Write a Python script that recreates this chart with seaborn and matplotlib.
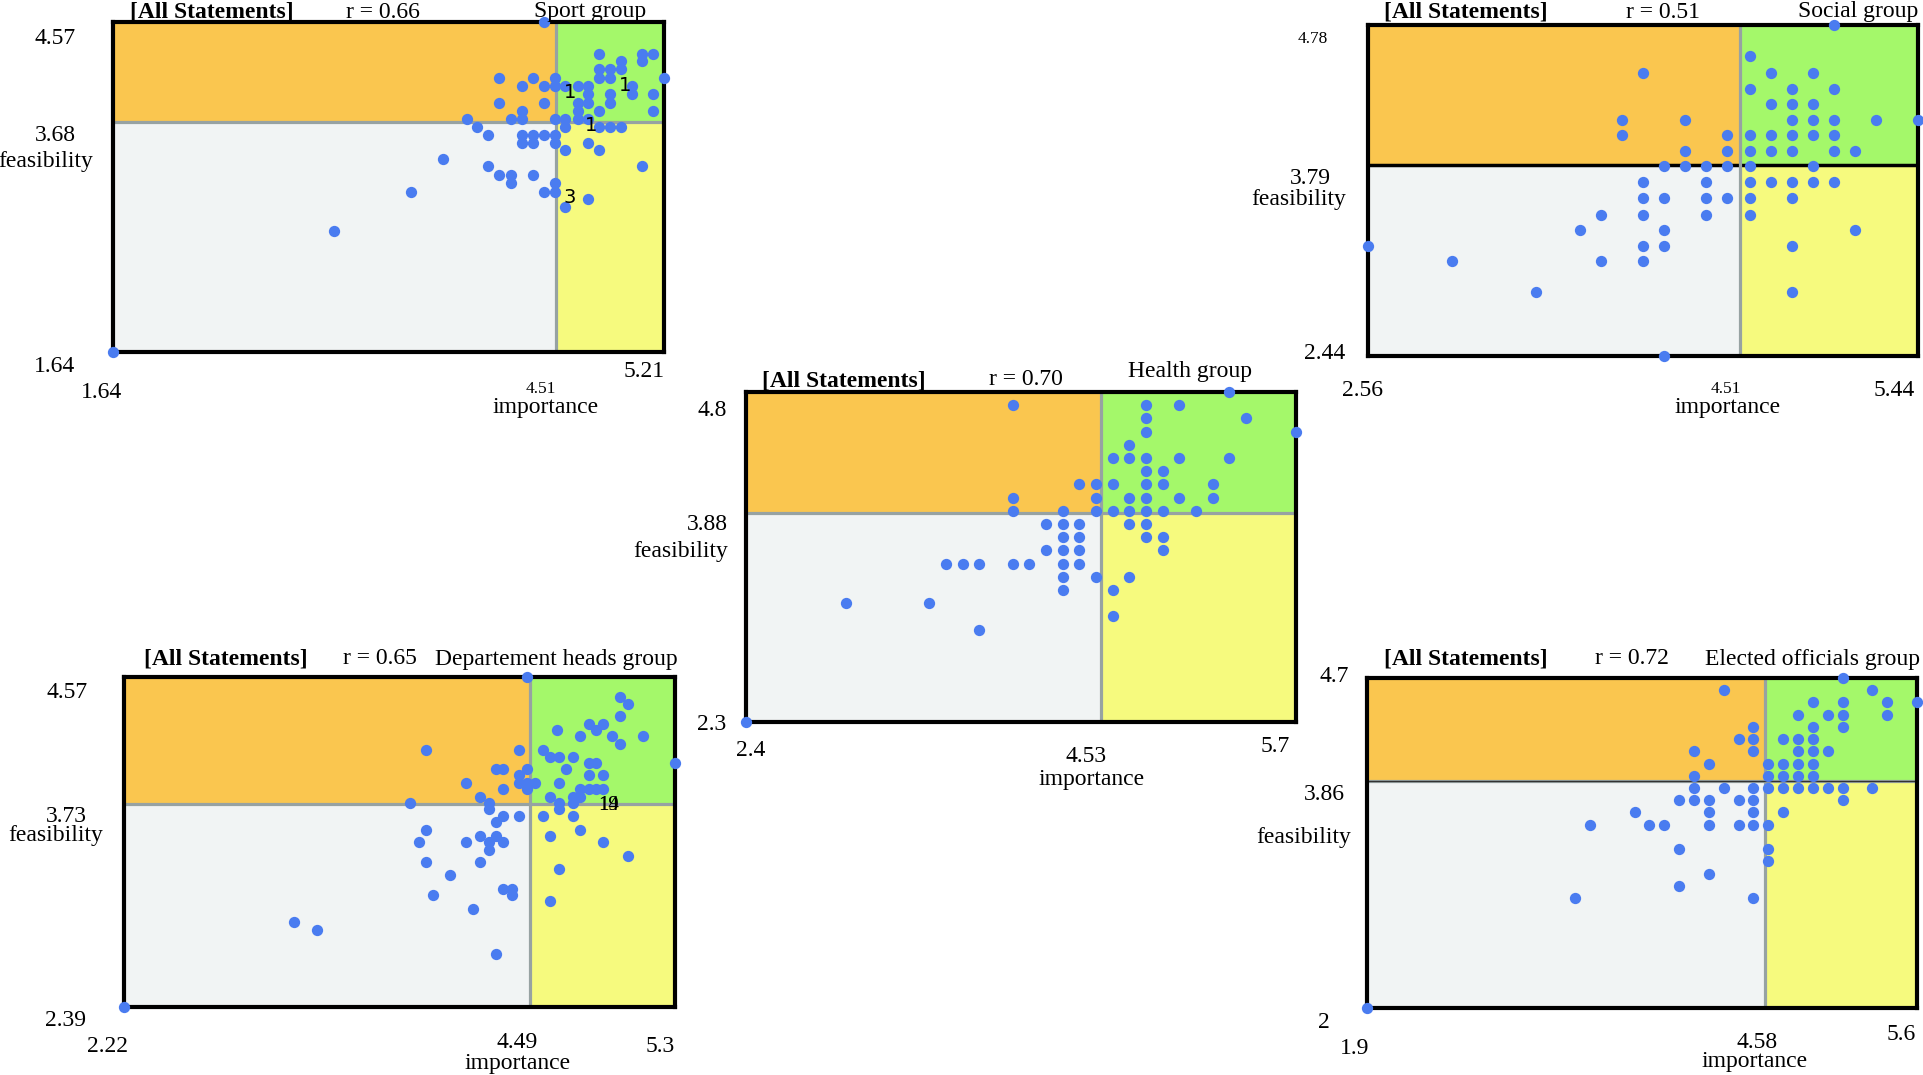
import numpy as np
import pandas as pd
import matplotlib
matplotlib.use("Agg")
import matplotlib.pyplot as plt
from matplotlib.patches import Rectangle
import seaborn as sns

sns.set_theme(style="white")
plt.rcParams['font.family'] = ['Liberation Serif', 'DejaVu Serif']

# ---------------- data ----------------
# Sport group
sport_imp = [4.43,
             4.79, 5.07, 5.14,
             4.93, 5.07,
             4.79, 4.86, 4.93,
             4.14, 4.36, 4.50, 4.79, 4.86, 5.21,
             4.29, 4.43, 4.50, 4.57, 4.65, 4.72, 5.00,
             4.72, 4.86, 5.00, 5.14,
             4.14, 4.43, 4.65, 4.72, 4.86,
             4.29, 4.65, 4.79, 5.14,
             3.93, 4.22, 4.29, 4.50, 4.57, 4.65, 4.72,
             4.00, 4.57, 4.79, 4.86, 4.93,
             4.07, 4.29, 4.36, 4.43, 4.50,
             4.29, 4.36, 4.50, 4.72,
             4.57, 4.79,
             3.78,
             4.07, 5.07,
             4.14, 4.22, 4.36,
             4.22, 4.50,
             3.57, 4.43, 4.50,
             4.72,
             4.57,
             3.07,
             1.64]
sport_feas = [4.57,
              4.29, 4.29, 4.29,
              4.22, 4.22,
              4.15, 4.15, 4.15,
              4.07, 4.07, 4.07, 4.07, 4.07, 4.07,
              4.00, 4.00, 4.00, 4.00, 4.00, 4.00, 4.00,
              3.93, 3.93, 3.93, 3.93,
              3.85, 3.85, 3.85, 3.85, 3.85,
              3.78, 3.78, 3.78, 3.78,
              3.71, 3.71, 3.71, 3.71, 3.71, 3.71, 3.71,
              3.64, 3.64, 3.64, 3.64, 3.64,
              3.57, 3.57, 3.57, 3.57, 3.57,
              3.50, 3.50, 3.50, 3.50,
              3.43, 3.43,
              3.35,
              3.29, 3.29,
              3.21, 3.21, 3.21,
              3.14, 3.14,
              3.06, 3.06, 3.06,
              3.00,
              2.93,
              2.71,
              1.64]
sport_imp_ticks = [1.64, 4.51, 5.21]
sport_feas_ticks = [1.64, 3.68, 4.57]
sport_cluster_labels = ["1", "1", "1", "3"]
sport_cluster_imp = [4.60, 4.96, 4.74, 4.60]
sport_cluster_feas = [3.94, 4.01, 3.65, 3.01]

# Social group
social_imp = [5.00,
              4.56,
              4.00, 4.67, 4.89,
              4.56, 4.78, 5.00,
              4.67, 4.78, 4.89,
              3.89, 4.22, 4.78, 4.89, 5.00, 5.22, 5.44,
              3.89, 4.44, 4.56, 4.67, 4.78, 4.89, 5.00,
              4.22, 4.44, 4.56, 4.67, 4.78, 5.00, 5.11,
              4.11, 4.22, 4.33, 4.44, 4.56, 4.89,
              4.00, 4.33, 4.56, 4.67, 4.78, 4.89, 5.00,
              4.00, 4.11, 4.33, 4.44, 4.56, 4.78,
              3.78, 4.00, 4.33, 4.56,
              3.67, 4.11, 5.11,
              2.56, 4.00, 4.11, 4.78,
              3.00, 3.78, 4.00,
              3.44, 4.78,
              4.11]
social_feas = [4.78,
               4.56,
               4.44, 4.44, 4.44,
               4.33, 4.33, 4.33,
               4.22, 4.22, 4.22,
               4.11, 4.11, 4.11, 4.11, 4.11, 4.11, 4.11,
               4.00, 4.00, 4.00, 4.00, 4.00, 4.00, 4.00,
               3.89, 3.89, 3.89, 3.89, 3.89, 3.89, 3.89,
               3.78, 3.78, 3.78, 3.78, 3.78, 3.78,
               3.67, 3.67, 3.67, 3.67, 3.67, 3.67, 3.67,
               3.56, 3.56, 3.56, 3.56, 3.56, 3.56,
               3.44, 3.44, 3.44, 3.44,
               3.33, 3.33, 3.33,
               3.22, 3.22, 3.22, 3.22,
               3.11, 3.11, 3.11,
               2.89, 2.89,
               2.44]
social_imp_ticks = [2.56, 4.51, 5.44]
social_feas_ticks = [2.44, 3.79, 4.78]

# Health group
health_imp = [5.3,
              4.0, 4.8, 5.0,
              4.8, 5.4,
              4.8, 5.7,
              4.7,
              4.6, 4.7, 4.8, 5.0, 5.3,
              4.8, 4.9,
              4.4, 4.5, 4.6, 4.8, 4.9, 5.2,
              4.0, 4.5, 4.7, 4.8, 5.0, 5.2,
              4.0, 4.3, 4.5, 4.6, 4.7, 4.8, 4.9, 5.1,
              4.2, 4.3, 4.4, 4.7, 4.8,
              4.3, 4.4, 4.8, 4.9,
              4.2, 4.3, 4.4, 4.9,
              3.6, 3.7, 3.8, 4.0, 4.1, 4.3, 4.4,
              4.3, 4.5, 4.7,
              4.3, 4.6,
              3.0, 3.5,
              4.6,
              3.8,
              2.4]
health_feas = [4.8,
               4.7, 4.7, 4.7,
               4.6, 4.6,
               4.5, 4.5,
               4.4,
               4.3, 4.3, 4.3, 4.3, 4.3,
               4.2, 4.2,
               4.1, 4.1, 4.1, 4.1, 4.1, 4.1,
               4.0, 4.0, 4.0, 4.0, 4.0, 4.0,
               3.9, 3.9, 3.9, 3.9, 3.9, 3.9, 3.9, 3.9,
               3.8, 3.8, 3.8, 3.8, 3.8,
               3.7, 3.7, 3.7, 3.7,
               3.6, 3.6, 3.6, 3.6,
               3.5, 3.5, 3.5, 3.5, 3.5, 3.5, 3.5,
               3.4, 3.4, 3.4,
               3.3, 3.3,
               3.2, 3.2,
               3.1,
               3.0,
               2.3]
health_imp_ticks = [2.4, 4.53, 5.7]
health_feas_ticks = [2.3, 3.88, 4.8]

# Departement heads group
dept_imp = [4.47, 4.99, 5.04, 4.99, 4.82, 4.90, 4.86, 4.64, 4.77, 4.95, 5.12, 4.99,
            3.91, 4.43, 4.56, 4.60, 4.65, 4.73, 4.30, 4.34, 4.47, 4.69, 4.82, 4.86,
            5.30, 4.43, 4.13, 4.43, 4.47, 4.52, 4.65, 4.82, 4.90, 4.34, 4.47, 4.77,
            4.82, 4.86, 4.90, 4.73, 4.60, 4.77, 4.21, 3.82, 4.26, 4.65, 4.73, 4.26,
            4.65, 4.34, 4.43, 4.56, 4.73, 4.30, 4.77, 3.91, 4.21, 4.30, 4.60, 3.87,
            4.13, 4.26, 4.34, 4.90, 4.26, 5.04, 3.91, 4.21, 4.04, 4.65, 4.34, 4.39,
            4.39, 3.95, 4.17, 4.60, 4.30, 3.17, 3.30, 2.22]
dept_feas = [4.57, 4.44, 4.39, 4.31, 4.26, 4.26, 4.22, 4.22, 4.18, 4.18, 4.18, 4.13,
             4.09, 4.09, 4.09, 4.04, 4.04, 4.04, 3.96, 3.96, 3.96, 3.96, 4.00, 4.00,
             4.00, 3.92, 3.87, 3.87, 3.87, 3.87, 3.87, 3.92, 3.92, 3.83, 3.83, 3.83,
             3.83, 3.83, 3.83, 3.78, 3.78, 3.78, 3.78, 3.74, 3.74, 3.74, 3.74, 3.70,
             3.70, 3.65, 3.65, 3.65, 3.65, 3.61, 3.56, 3.56, 3.52, 3.52, 3.52, 3.48,
             3.48, 3.48, 3.48, 3.48, 3.43, 3.39, 3.35, 3.35, 3.26, 3.30, 3.17, 3.17,
             3.13, 3.13, 3.04, 3.09, 2.74, 2.95, 2.90, 2.39]
dept_imp_ticks = [2.22, 4.49, 5.3]
dept_feas_ticks = [2.39, 3.73, 4.57]
dept_cluster_labels = ["19", "14"]
dept_cluster_imp = [4.93, 4.93]
dept_cluster_feas = [3.72, 3.72]

# Elected officials group
elected_imp = [5.1,
               4.3, 5.3,
               4.9, 5.1, 5.4, 5.6,
               4.8, 5.0, 5.1, 5.4,
               4.5, 4.9, 5.1,
               4.4, 4.5, 4.7, 4.8, 4.9,
               4.1, 4.5, 4.8, 4.9, 5.0,
               4.2, 4.6, 4.7, 4.8, 4.9,
               4.1, 4.6, 4.7, 4.8, 4.9,
               4.1, 4.3, 4.5, 4.6, 4.7, 4.8, 4.9, 5.0, 5.1, 5.3,
               4.0, 4.1, 4.2, 4.4, 4.5, 5.1,
               3.7, 4.2, 4.5, 4.7,
               3.4, 3.8, 3.9, 4.2, 4.4, 4.5, 4.6,
               4.0, 4.6,
               4.6,
               4.2,
               4.0,
               3.3, 4.5,
               1.9]
elected_feas = [4.7,
                4.6, 4.6,
                4.5, 4.5, 4.5, 4.5,
                4.4, 4.4, 4.4, 4.4,
                4.3, 4.3, 4.3,
                4.2, 4.2, 4.2, 4.2, 4.2,
                4.1, 4.1, 4.1, 4.1, 4.1,
                4.0, 4.0, 4.0, 4.0, 4.0,
                3.9, 3.9, 3.9, 3.9, 3.9,
                3.8, 3.8, 3.8, 3.8, 3.8, 3.8, 3.8, 3.8, 3.8, 3.8,
                3.7, 3.7, 3.7, 3.7, 3.7, 3.7,
                3.6, 3.6, 3.6, 3.6,
                3.5, 3.5, 3.5, 3.5, 3.5, 3.5, 3.5,
                3.3, 3.3,
                3.2,
                3.1,
                3.0,
                2.9, 2.9,
                2.0]
elected_imp_ticks = [1.9, 4.58, 5.6]
elected_feas_ticks = [2.0, 3.86, 4.7]

group_names = ["Sport group", "Social group", "Health group",
               "Departement heads group", "Elected officials group"]
r_labels = ["r = 0.66", "r = 0.51", "r = 0.70", "r = 0.65", "r = 0.72"]
imp_tick_labels = [["1.64", "4.51", "5.21"], ["2.56", "4.51", "5.44"],
                   ["2.4", "4.53", "5.7"], ["2.22", "4.49", "5.3"],
                   ["1.9", "4.58", "5.6"]]
feas_tick_labels = [["1.64", "3.68", "4.57"], ["2.44", "3.79", "4.78"],
                    ["2.3", "3.88", "4.8"], ["2.39", "3.73", "4.57"],
                    ["2", "3.86", "4.7"]]

# ---------------- styling ----------------
W, H = 1924, 1075
ORANGE = "#FAC64F"
GREEN = "#A4F86A"
GRAYQ = "#F1F4F4"
YELLOW = "#F6FA7E"
BLUE = "#4A7CF0"
DIV = "#97A2A2"
FS = 17

fig = plt.figure(figsize=(W / 100, H / 100), dpi=100)
fig.patch.set_facecolor("white")


def ftext(x, y, s, **kw):
    kw.setdefault("ha", "center")
    kw.setdefault("va", "center")
    kw.setdefault("fontsize", FS)
    kw.setdefault("color", "black")
    fig.text(x / W, 1 - y / H, s, **kw)


# frame rectangles in pixels: left, top, right, bottom
frames = [(113.5, 22, 664, 352), (1368, 25, 1918, 356), (746, 392, 1296, 722),
          (124, 677, 675, 1007), (1367, 678, 1917, 1008)]

# label positions (pixels)
layout = [
    dict(t=[(212, 12), (383, 12), (590, 12)], ymax=(55, 38, FS), ymean=(55, 136, FS),
         feas=(46, 161), ymin=(55, 366, FS), xmin=(102, 393, FS), xmean=(541, 389, 12.5),
         imp=(546, 408), xmax=(644, 371, FS)),
    dict(t=[(1466, 12), (1663, 12), (1858, 12)], ymax=(1313, 39, 12.5), ymean=(1310, 178, FS),
         feas=(1299, 200), ymin=(1325, 353, FS), xmin=(1363, 391, FS), xmean=(1726, 389, 12.5),
         imp=(1728, 408), xmax=(1894, 391, FS)),
    dict(t=[(844, 381), (1026, 379), (1190, 372)], ymax=(712, 410, FS), ymean=(707, 525, FS),
         feas=(681, 552), ymin=(712, 724, FS), xmin=(751, 751, FS), xmean=(1086, 757, FS),
         imp=(1092, 779), xmax=(1275, 747, FS)),
    dict(t=[(226, 659), (380, 659), (556, 659)], ymax=(67, 693, FS), ymean=(66, 816, FS),
         feas=(56, 836), ymin=(66, 1021, FS), xmin=(107, 1047, FS), xmean=(517, 1043, FS),
         imp=(518, 1064), xmax=(660, 1047, FS)),
    dict(t=[(1466, 659), (1632, 659), (1813, 659)], ymax=(1334, 677, FS), ymean=(1324, 795, FS),
         feas=(1304, 837), ymin=(1324, 1022, FS), xmin=(1355, 1048, FS), xmean=(1757, 1043, FS),
         imp=(1755, 1061), xmax=(1901, 1034, FS)),
]

panels = [
    (sport_imp, sport_feas, sport_imp_ticks, sport_feas_ticks),
    (social_imp, social_feas, social_imp_ticks, social_feas_ticks),
    (health_imp, health_feas, health_imp_ticks, health_feas_ticks),
    (dept_imp, dept_feas, dept_imp_ticks, dept_feas_ticks),
    (elected_imp, elected_feas, elected_imp_ticks, elected_feas_ticks),
]

axes = []
for i, (imp, feas, xt, yt) in enumerate(panels):
    l, t, r, b = frames[i]
    ax = fig.add_axes([l / W, 1 - b / H, (r - l) / W, (b - t) / H])
    axes.append(ax)
    xmin, xmean, xmax = xt
    ymin, ymean, ymax = yt
    # quadrant fills
    ax.add_patch(Rectangle((xmin, ymean), xmean - xmin, ymax - ymean, color=ORANGE, zorder=0, lw=0))
    ax.add_patch(Rectangle((xmean, ymean), xmax - xmean, ymax - ymean, color=GREEN, zorder=0, lw=0))
    ax.add_patch(Rectangle((xmin, ymin), xmean - xmin, ymean - ymin, color=GRAYQ, zorder=0, lw=0))
    ax.add_patch(Rectangle((xmean, ymin), xmax - xmean, ymean - ymin, color=YELLOW, zorder=0, lw=0))
    if i == 1:
        ax.axhline(ymean, color="black", lw=2.5, zorder=1)
    else:
        ax.axhline(ymean, color=DIV, lw=2.3, zorder=1)
        if i == 4:
            ax.axhline(ymean, color="#333333", lw=0.9, zorder=1.1)
    ax.axvline(xmean, color=DIV, lw=2.3, zorder=1)

    df = pd.DataFrame({"importance": imp, "feasibility": feas})
    sns.scatterplot(data=df, x="importance", y="feasibility", ax=ax, color=BLUE,
                    s=66, linewidth=0, zorder=5, clip_on=False, legend=False)
    ax.set_xlim(xmin, xmax)
    ax.set_ylim(ymin, ymax)
    ax.set_xlabel("")
    ax.set_ylabel("")
    ax.set_xticks([])
    ax.set_yticks([])
    for sp in ax.spines.values():
        sp.set_visible(True)
        sp.set_color("black")
        sp.set_linewidth(3)
        sp.set_zorder(3)

    L = layout[i]
    (x0, y0), (x1, y1), (x2, y2) = L["t"]
    ftext(x0, y0, "[All Statements]", fontweight="bold")
    ftext(x1, y1, r_labels[i])
    ftext(x2, y2, group_names[i])
    ylabs = feas_tick_labels[i]
    xlabs = imp_tick_labels[i]
    ftext(L["ymax"][0], L["ymax"][1], ylabs[2], fontsize=L["ymax"][2])
    ftext(L["ymean"][0], L["ymean"][1], ylabs[1], fontsize=L["ymean"][2])
    ftext(L["ymin"][0], L["ymin"][1], ylabs[0], fontsize=L["ymin"][2])
    ftext(L["feas"][0], L["feas"][1], "feasibility")
    ftext(L["xmin"][0], L["xmin"][1], xlabs[0], fontsize=L["xmin"][2])
    ftext(L["xmean"][0], L["xmean"][1], xlabs[1], fontsize=L["xmean"][2])
    ftext(L["xmax"][0], L["xmax"][1], xlabs[2], fontsize=L["xmax"][2])
    ftext(L["imp"][0], L["imp"][1], "importance")

# cluster number labels
for s, x, y in zip(sport_cluster_labels, sport_cluster_imp, sport_cluster_feas):
    axes[0].text(x, y, s, fontsize=14, family="DejaVu Sans", ha="center", va="center",
                 color="black", zorder=6)
for s, x, y in zip(dept_cluster_labels, dept_cluster_imp, dept_cluster_feas):
    axes[3].text(x, y, s, fontsize=15, ha="center", va="center", color="black", zorder=6)

fig.savefig("out.png", dpi=100, facecolor="white")
